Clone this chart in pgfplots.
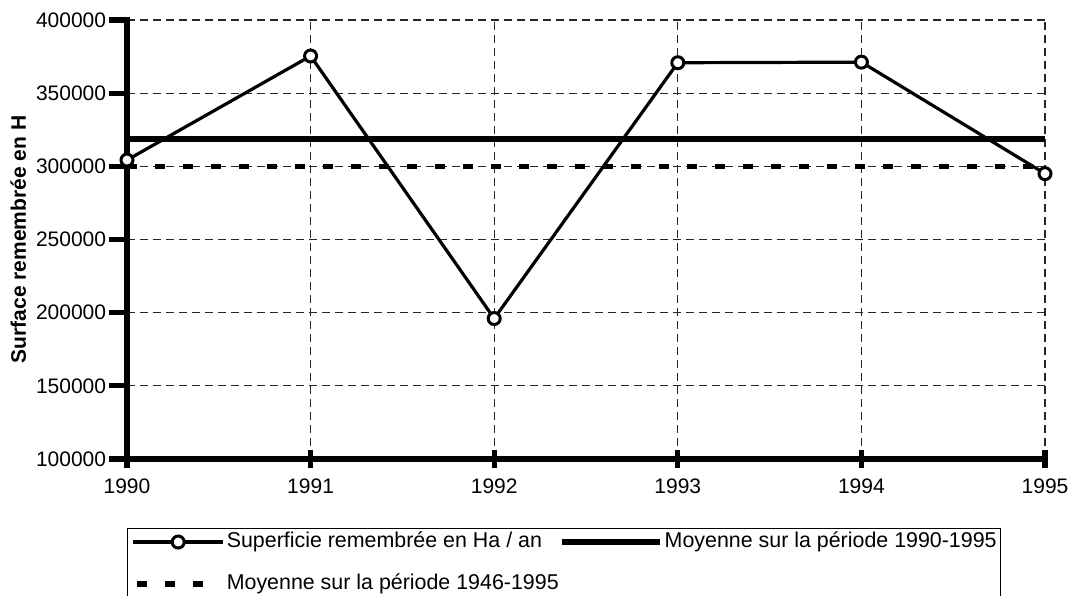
\documentclass[border=0pt]{standalone}
\usepackage{fontspec}
\setmainfont{Liberation Sans}
\usepackage{pgfplots}
\pgfplotsset{compat=1.18}
\pgfplotsset{
  moy/.style={black, line width=3pt},
  moyb/.style={black, line width=2.6pt, dash pattern=on 5pt off 9pt},
}
\begin{document}
\begin{tikzpicture}
\useasboundingbox (-63.5pt,-68pt) rectangle (474pt,229.5pt);
\begin{axis}[
  at={(0pt,0pt)}, anchor=south west,
  scale only axis, width=459pt, height=219.5pt,
  xmin=1990, xmax=1995, ymin=100000, ymax=400000,
  xtick={1990,1991,1992,1993,1994,1995},
  ytick={100000,150000,200000,250000,300000,350000,400000},
  scaled y ticks=false, clip=false,
  axis lines=left,
  axis line style={-, line width=3pt, line cap=rect},
  xmajorgrids, ymajorgrids,
  grid style={black!85, line width=0.6pt, dash pattern=on 4pt off 2.5pt},
  major tick style={black, line width=2.6pt, solid},
  major tick length=9pt,
  xtick align=center, ytick align=outside,
  tick label style={font=\fontsize{10.5}{12}\selectfont, /pgf/number format/assume math mode=true},
  xticklabel style={/pgf/number format/1000 sep={}, yshift=-2pt},
  yticklabel style={/pgf/number format/fixed, /pgf/number format/1000 sep={}, xshift=2pt},
  ylabel={Surface remembrée en H},
  ylabel style={font=\fontsize{10.5}{12}\selectfont\bfseries, yshift=-2pt},
  legend columns=2,
  legend style={at={(0,-0.157)}, anchor=north west, draw=black, line width=0.6pt,
    font=\fontsize{10.7}{12}\selectfont, inner xsep=2pt, inner ysep=1.5pt,
    row sep=10.5pt,
    nodes={inner sep=0pt, text height=8pt, text depth=2.5pt},
    /tikz/every odd column/.append style={column sep=1pt},
    /tikz/every even column/.append style={column sep=0pt},
    cells={anchor=west}},
]
\addplot[moyb, forget plot] coordinates {(1990,300000) (1995,300000)};
\addplot[moy, forget plot] coordinates {(1990,318800) (1995,318800)};
\addplot[black, line width=1.6pt, mark=*, mark size=3pt,
  mark options={fill=white, solid, line width=1.5pt},
  legend image code/.code={\draw[mark repeat=2, mark phase=2] plot coordinates {(0pt,0pt) (22.5pt,0pt) (45pt,0pt)};}]
  coordinates {(1990,304300) (1991,375400) (1992,196000) (1993,370800) (1994,371200) (1995,295000)};
\addlegendentry{Superficie remembrée en Ha / an}
\addlegendimage{moy, legend image code/.code={\draw (0pt,0pt) -- (49pt,0pt);}}
\addlegendentry{Moyenne sur la période 1990-1995}
\addlegendimage{moyb, legend image code/.code={\draw (2pt,0pt) -- (40pt,0pt);}}
\addlegendentry{Moyenne sur la période 1946-1995}
\end{axis}
\end{tikzpicture}
\end{document}
